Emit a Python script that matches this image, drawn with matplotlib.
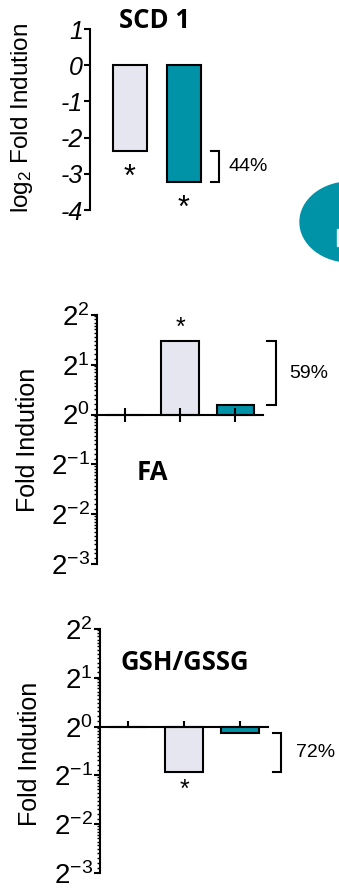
import numpy as np
import matplotlib
matplotlib.use("Agg")
import matplotlib.pyplot as plt
from matplotlib.patches import Ellipse, Rectangle
from matplotlib.ticker import FixedLocator, FuncFormatter, LogLocator, NullFormatter

plt.rcParams["font.family"] = ["Liberation Sans", "DejaVu Sans"]
plt.rcParams["axes.unicode_minus"] = False
plt.rcParams["mathtext.fontset"] = "custom"
plt.rcParams["mathtext.rm"] = "Liberation Sans"
plt.rcParams["mathtext.it"] = "Liberation Sans:italic"

LIGHT = "#E6E6F0"
TEAL = "#0093A8"

# SCD 1 (log2 fold induction), two treatments
scd_values = [-2.38, -3.24]
scd_stars = ["*", "*"]
scd_pct = "44%"

# FA (fold induction), control + two treatments
fa_values = [1.0, 2.79, 1.14]
fa_pct = "59%"

# GSH/GSSG (fold induction)
gsh_values = [1.0, 0.525, 0.91]
gsh_pct = "72%"

W, H = 339, 891
fig = plt.figure(figsize=(W / 100, H / 100), dpi=100)


def px_axes(left, top, right, bottom):
    return fig.add_axes([left / W, 1 - bottom / H, (right - left) / W, (bottom - top) / H])


def bracket(ax, x0, x1, y0, y1, label, xt):
    ax.plot([x0, x1, x1, x0], [y0, y0, y1, y1], color="black", lw=1.5,
            clip_on=False, solid_joinstyle="miter")
    ym = np.sqrt(y0 * y1) if ax.get_yscale() == "log" else (y0 + y1) / 2
    ax.text(xt, ym, label, fontsize=14, va="center", ha="left", clip_on=False)


def pow2(v, pos):
    return r"$\mathregular{2^{%d}}$" % round(np.log2(v))


# ---- panel 1: SCD 1 ----
ax1 = px_axes(90, 29, 230, 210)
ax1.bar([1, 2], scd_values, width=0.63, color=[LIGHT, TEAL], edgecolor="black", linewidth=1.5)
ax1.set_xlim(0.268, 2.86)
ax1.set_ylim(-4, 1)
for s in ["top", "right", "bottom"]:
    ax1.spines[s].set_visible(False)
ax1.spines["left"].set_linewidth(1.5)
ax1.set_xticks([])
ax1.set_yticks(range(-4, 2))
ax1.tick_params(axis="y", length=4, width=1.5, pad=1)
for lab in ax1.get_yticklabels():
    lab.set_fontsize(18)
    lab.set_style("italic")
for x, v, s in zip([1, 2], scd_values, scd_stars):
    ax1.annotate(s, (x, v), xytext=(0, -8), textcoords="offset points",
                 ha="center", va="top", fontsize=22)
bracket(ax1, 2.51, 2.66, scd_values[0], scd_values[1], scd_pct, 2.84)
fig.text(155 / W, 1 - 20 / H, "SCD 1", family="Open Sans", weight="bold",
         fontsize=18.5, ha="center", va="center")
fig.text(22 / W, 1 - 118 / H, r"log$_2$ Fold Indution", rotation=90,
         fontsize=17.5, ha="center", va="center")


def log_panel(left, top, right, bottom, values, tickdir, ticklen):
    ax = px_axes(left, top, right, bottom)
    ax.set_yscale("log", base=2)
    ax.set_ylim(2 ** -3, 2 ** 2)
    ax.set_xlim(0.5, 3.5)
    xs = [1, 2, 3]
    ax.bar(xs, [v - 1 for v in values], bottom=1, width=0.67,
           color=[LIGHT, LIGHT, TEAL], edgecolor="black", linewidth=1.5)
    for s in ["top", "right"]:
        ax.spines[s].set_visible(False)
    ax.spines["left"].set_linewidth(1.5)
    ax.spines["bottom"].set_linewidth(1.5)
    ax.spines["bottom"].set_position(("data", 1))
    ax.set_xticks(xs)
    ax.set_xticklabels([])
    ax.tick_params(axis="x", direction=tickdir, length=ticklen, width=1.5)
    ax.yaxis.set_major_locator(FixedLocator([2.0 ** k for k in range(-3, 3)]))
    ax.yaxis.set_major_formatter(FuncFormatter(pow2))
    ax.yaxis.set_minor_locator(LogLocator(base=2, subs=np.arange(1.08, 2.0, 0.08), numticks=30))
    ax.yaxis.set_minor_formatter(NullFormatter())
    ax.tick_params(axis="y", which="major", length=4, width=1.5, labelsize=20, pad=1)
    ax.tick_params(axis="y", which="minor", length=2.5, width=1.0)
    return ax


# ---- panel 2: FA ----
ax2 = log_panel(97, 315, 263, 564, fa_values, "inout", 10)
ax2.annotate("*", (2, fa_values[1]), xytext=(0, 1), textcoords="offset points",
             ha="center", va="bottom", fontsize=18)
bracket(ax2, 3.58, 3.74, fa_values[1], fa_values[2], fa_pct, 3.98)
fig.text(152 / W, 1 - 473 / H, "FA", family="Open Sans", weight="bold",
         fontsize=18.5, ha="center", va="center")
fig.text(28 / W, 1 - 440 / H, "Fold Indution", rotation=90,
         fontsize=18, ha="center", va="center")

# ---- panel 3: GSH/GSSG ----
ax3 = log_panel(100, 629, 268, 873, gsh_values, "in", 4)
ax3.annotate("*", (2, gsh_values[1]), xytext=(0, -4), textcoords="offset points",
             ha="center", va="top", fontsize=18)
bracket(ax3, 3.59, 3.73, gsh_values[2], gsh_values[1], gsh_pct, 4.0)
fig.text(185 / W, 1 - 662 / H, "GSH/GSSG", family="Open Sans", weight="bold",
         fontsize=18.5, ha="center", va="center")
fig.text(30 / W, 1 - 754 / H, "Fold Indution", rotation=90,
         fontsize=18, ha="center", va="center")

# decorative shape cut at the right edge
fig.patches.append(Ellipse((350 / 100, (H - 222) / 100), 1.0, 0.8, color=TEAL,
                           transform=fig.dpi_scale_trans))
fig.patches.append(Rectangle((336.5 / 100, (H - 246) / 100), 0.03, 0.17,
                             color="#E8F0F2", transform=fig.dpi_scale_trans))

fig.savefig("out.png", dpi=100)
